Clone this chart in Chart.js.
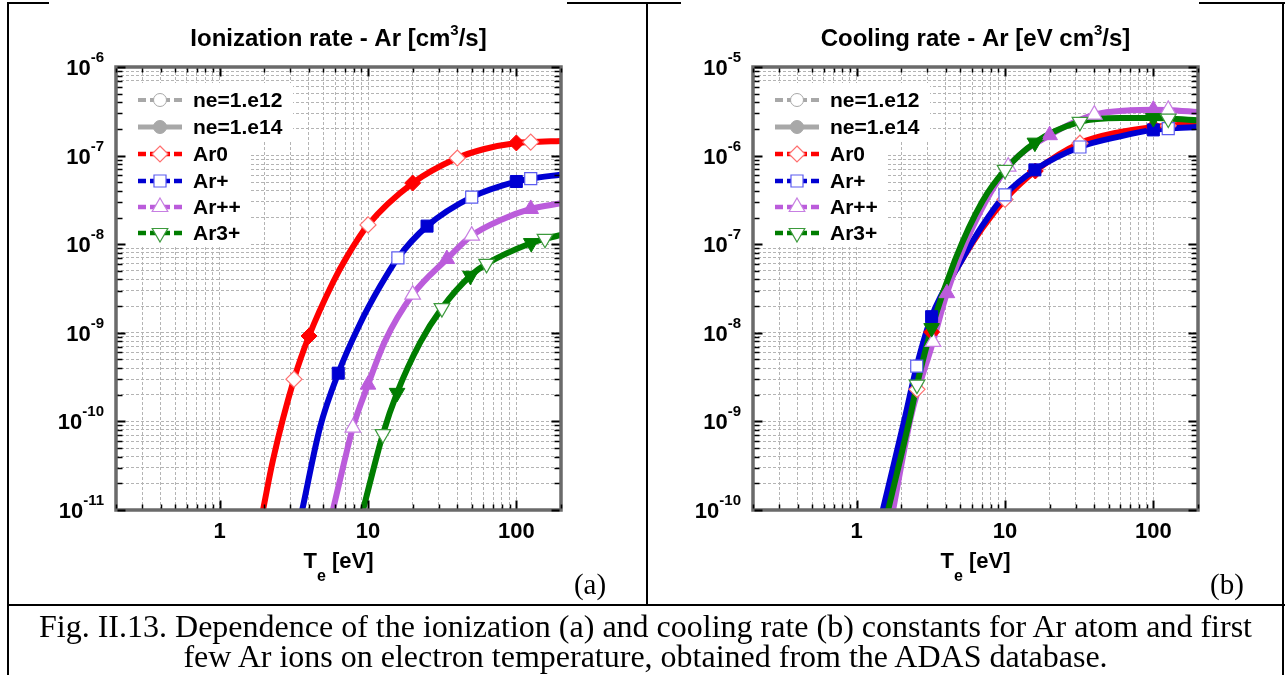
<!DOCTYPE html>
<html lang="en">
<head>
<meta charset="UTF-8">
<title>Ar ionization and cooling rates</title>
<script src="https://cdn.jsdelivr.net/npm/chart.js"></script>
<style>
  body { margin: 0; width: 1285px; height: 675px; background: #fff; position: relative; overflow: hidden; }
  canvas { position: absolute; }
  .ln { position: absolute; background: #000; z-index: 5; }
  #caption { position: absolute; left: 9px; width: 1273px; top: 611px; text-align: center; color: #000;
             font-family: "Liberation Serif", "Times New Roman", serif; font-size: 32px; line-height: 30px; z-index: 5; }
</style>
</head>
<body>

<canvas id="chartIon" width="645" height="603" style="left:0;top:0"></canvas>
<canvas id="chartCool" width="637" height="603" style="left:648px;top:0"></canvas>

<!-- table borders -->
<div class="ln" style="left:7px;top:2px;width:42px;height:2px"></div>
<div class="ln" style="left:567px;top:2px;width:114px;height:2px"></div>
<div class="ln" style="left:1199px;top:2px;width:86px;height:2px"></div>
<div class="ln" style="left:7px;top:2px;width:2px;height:673px"></div>
<div class="ln" style="left:646px;top:2px;width:2px;height:603px"></div>
<div class="ln" style="left:1282px;top:2px;width:2px;height:673px"></div>
<div class="ln" style="left:7px;top:604px;width:1278px;height:2px"></div>

<div id="caption">Fig. II.13. Dependence of the ionization (a) and cooling rate (b) constants for Ar atom and first<br>few Ar ions on electron temperature, obtained from the ADAS database.</div>

<script>
  // ---- axes ----
  var xMin = 0.2, xMax = 200
  var xLabelValues = [1, 10, 100]
  var ionExponents = [-11, -10, -9, -8, -7, -6]
  var coolExponents = [-10, -9, -8, -7, -6, -5]
  var speciesNames = ['Ar0', 'Ar+', 'Ar++', 'Ar3+']

  // ---- (a) ionization rate [cm3/s] vs Te [eV] ----
  var ionT_Ar0 = [1.96, 2.29, 3.17, 4, 5.8, 7.2, 10, 20, 40, 60, 100, 125, 200]
  var ion_Ar0 = [1e-11, 3.7e-11, 3.0e-10, 9.2e-10, 3.7e-9, 7.2e-9, 1.65e-8, 4.9e-8, 9.4e-8, 1.18e-7, 1.39e-7, 1.42e-7, 1.46e-7]
  var ionOpenT_Ar0 = [3.17, 10, 40, 125]
  var ionOpen_Ar0 = [3.0e-10, 1.65e-8, 9.4e-8, 1.42e-7]
  var ionFullT_Ar0 = [4, 20, 100]
  var ionFull_Ar0 = [9.2e-10, 4.9e-8, 1.39e-7]

  var ionT_Arp = [3.6, 4.75, 6.3, 8.8, 12, 15.9, 25, 50, 100, 125, 200]
  var ion_Arp = [1e-11, 8.6e-11, 3.5e-10, 1.25e-9, 3.3e-9, 7.0e-9, 1.6e-8, 3.4e-8, 5.1e-8, 5.5e-8, 6.1e-8]
  var ionOpenT_Arp = [15.9, 50, 125]
  var ionOpen_Arp = [7.0e-9, 3.4e-8, 5.5e-8]
  var ionFullT_Arp = [6.3, 25, 100]
  var ionFull_Arp = [3.5e-10, 1.6e-8, 5.1e-8]

  var ionT_Arpp = [5.8, 7, 7.9, 10, 13, 20, 34, 50, 80, 125, 200]
  var ion_Arpp = [1e-11, 3.8e-11, 8.5e-11, 2.6e-10, 8e-10, 2.7e-9, 6.8e-9, 1.25e-8, 1.9e-8, 2.5e-8, 2.9e-8]
  var ionOpenT_Arpp = [7.9, 20, 50]
  var ionOpen_Arpp = [8.5e-11, 2.7e-9, 1.25e-8]
  var ionFullT_Arpp = [10, 34, 125]
  var ionFull_Arpp = [2.6e-10, 6.8e-9, 2.5e-8]

  var ionT_Ar3p = [9.25, 12.6, 15.7, 22.4, 31.5, 49, 63, 126, 156, 200]
  var ion_Ar3p = [1e-11, 7.2e-11, 2.1e-10, 7.7e-10, 1.9e-9, 4.4e-9, 6.0e-9, 1.03e-8, 1.15e-8, 1.27e-8]
  var ionOpenT_Ar3p = [12.6, 31.5, 63, 156]
  var ionOpen_Ar3p = [7.2e-11, 1.9e-9, 6.0e-9, 1.15e-8]
  var ionFullT_Ar3p = [15.7, 49, 126]
  var ionFull_Ar3p = [2.1e-10, 4.4e-9, 1.03e-8]

  // ---- (b) cooling rate [eV cm3/s] vs Te [eV] ----
  var coolT_Ar0 = [1.58, 2.2, 2.55, 3.2, 4, 5.3, 7, 10, 16, 32, 60, 100, 126, 200]
  var cool_Ar0 = [1e-10, 9.5e-10, 2.3e-9, 1.02e-8, 3.1e-8, 7.3e-8, 1.5e-7, 3.2e-7, 6.7e-7, 1.38e-6, 1.85e-6, 2.1e-6, 2.17e-6, 2.3e-6]
  var coolOpenT_Ar0 = [2.55, 10, 32, 126]
  var coolOpen_Ar0 = [2.3e-9, 3.2e-7, 1.38e-6, 2.17e-6]
  var coolFullT_Ar0 = [3.2, 16, 100]
  var coolFull_Ar0 = [1.02e-8, 6.7e-7, 2.1e-6]

  var coolT_Arp = [1.5, 2.12, 2.54, 3.2, 5.1, 7, 10, 15.9, 32, 60, 100, 126, 200]
  var cool_Arp = [1e-10, 1.12e-9, 4.2e-9, 1.52e-8, 6.6e-8, 1.6e-7, 3.6e-7, 6.9e-7, 1.25e-6, 1.65e-6, 1.95e-6, 2.02e-6, 2.1e-6]
  var coolOpenT_Arp = [2.54, 10, 32, 126]
  var coolOpen_Arp = [4.2e-9, 3.6e-7, 1.25e-6, 2.02e-6]
  var coolFullT_Arp = [3.2, 15.9, 100]
  var coolFull_Arp = [1.52e-8, 6.9e-7, 1.95e-6]

  var coolT_Arpp = [1.76, 2.32, 3.27, 4.06, 6, 10.5, 20, 40, 70, 100, 126, 200]
  var cool_Arpp = [1e-10, 1.12e-9, 7.9e-9, 2.8e-8, 1.5e-7, 7.5e-7, 1.7e-6, 2.9e-6, 3.25e-6, 3.3e-6, 3.28e-6, 3.1e-6]
  var coolOpenT_Arpp = [3.27, 10.5, 40, 126]
  var coolOpen_Arpp = [7.9e-9, 7.5e-7, 2.9e-6, 3.28e-6]
  var coolFullT_Arpp = [4.06, 20, 100]
  var coolFull_Arpp = [2.8e-8, 1.7e-6, 3.3e-6]

  var coolT_Ar3p = [1.63, 2.29, 2.55, 3.2, 4.6, 7, 10, 15.9, 32, 60, 100, 126, 200]
  var cool_Ar3p = [1e-10, 1.12e-9, 2.6e-9, 1.13e-8, 6.6e-8, 3.0e-7, 6.9e-7, 1.4e-6, 2.4e-6, 2.65e-6, 2.65e-6, 2.62e-6, 2.5e-6]
  var coolOpenT_Ar3p = [2.55, 10, 32, 126]
  var coolOpen_Ar3p = [2.6e-9, 6.9e-7, 2.4e-6, 2.62e-6]
  var coolFullT_Ar3p = [3.2, 15.9, 100]
  var coolFull_Ar3p = [1.13e-8, 1.4e-6, 2.65e-6]

  // ---- styles ----
  var sans = '"Liberation Sans", Arial, sans-serif'
  var serif = '"Liberation Serif", "Times New Roman", serif'
  var gridColor = '#b4b4b4'
  var frameColor = '#6a6a6a'
  var neColor = '#a8a8a8'
  var speciesStyle = [
    { color: '#ff0000', light: '#ff6f6f', marker: 'diamond', pointStyle: 'rectRot', rot: 0, r: 8 },
    { color: '#0000d2', light: '#5c5cf0', marker: 'square', pointStyle: 'rect', rot: 0, r: 8.5 },
    { color: '#bb5cdb', light: '#c77fe2', marker: 'triangle', pointStyle: 'triangle', rot: 0, r: 9 },
    { color: '#007d00', light: '#3c9a3c', marker: 'invtriangle', pointStyle: 'triangle', rot: 180, r: 9 }
  ]

  function toXY(xs, ys) {
    return xs.map(function (x, i) { return { x: x, y: ys[i] } })
  }

  // tick values 1..9 x 10^n inside [lo, hi]
  function logTicks(lo, hi) {
    var out = []
    for (var e = Math.floor(Math.log10(lo)); e <= Math.ceil(Math.log10(hi)); e++) {
      for (var m = 1; m <= 9; m++) {
        var v = m * Math.pow(10, e)
        if (v >= lo * 0.999 && v <= hi * 1.001) out.push({ value: v, major: m === 1 })
      }
    }
    return out
  }

  function drawMarker(ctx, kind, x, y, r, fill, stroke, lw) {
    ctx.save()
    ctx.beginPath()
    if (kind === 'circle') {
      ctx.arc(x, y, r, 0, Math.PI * 2)
    } else if (kind === 'diamond') {
      ctx.moveTo(x, y - r); ctx.lineTo(x + r, y); ctx.lineTo(x, y + r); ctx.lineTo(x - r, y); ctx.closePath()
    } else if (kind === 'square') {
      var s = r * Math.SQRT1_2
      ctx.rect(x - s, y - s, 2 * s, 2 * s)
    } else if (kind === 'triangle') {
      ctx.moveTo(x, y - r); ctx.lineTo(x + 0.866 * r, y + 0.5 * r); ctx.lineTo(x - 0.866 * r, y + 0.5 * r); ctx.closePath()
    } else {
      ctx.moveTo(x, y + r); ctx.lineTo(x + 0.866 * r, y - 0.5 * r); ctx.lineTo(x - 0.866 * r, y - 0.5 * r); ctx.closePath()
    }
    ctx.fillStyle = fill
    ctx.fill()
    ctx.lineWidth = lw
    ctx.strokeStyle = stroke
    ctx.stroke()
    ctx.restore()
  }

  // text made of pieces: {t, size, dy}
  function drawRich(ctx, parts, x, y, align) {
    var total = 0
    parts.forEach(function (p) { ctx.font = 'bold ' + p.size + 'px ' + sans; p.w = ctx.measureText(p.t).width; total += p.w })
    var cx = align === 'center' ? x - total / 2 : (align === 'right' ? x - total : x)
    ctx.textAlign = 'left'
    ctx.textBaseline = 'alphabetic'
    parts.forEach(function (p) {
      ctx.font = 'bold ' + p.size + 'px ' + sans
      ctx.fillText(p.t, cx, y + (p.dy || 0))
      cx += p.w
    })
  }

  function legendLine(ctx, x0, x1, y, color, width, dashed) {
    var mid = (x0 + x1) / 2
    ctx.save()
    ctx.strokeStyle = color
    ctx.lineWidth = width
    ctx.setLineDash(dashed ? [8, 4] : [])
    ctx.beginPath(); ctx.moveTo(x0, y); ctx.lineTo(mid, y); ctx.stroke()
    ctx.beginPath(); ctx.moveTo(x1, y); ctx.lineTo(mid, y); ctx.stroke()
    ctx.restore()
  }

  var decoPlugin = {
    id: 'deco',
    // white legend background, over the grid
    beforeDatasetsDraw: function (chart) {
      var a = chart.chartArea, ctx = chart.ctx
      ctx.save()
      ctx.fillStyle = '#fff'
      ctx.fillRect(a.left + 1, a.top + 16, 176, 58)
      ctx.fillRect(a.left + 1, a.top + 73, 133, 107)
      ctx.restore()
    },
    afterDatasetsDraw: function (chart, args, opts) {
      var a = chart.chartArea, ctx = chart.ctx
      var xs = chart.scales.x, ys = chart.scales.y
      ctx.save()

      // frame
      ctx.strokeStyle = frameColor
      ctx.lineWidth = 3.5
      ctx.strokeRect(a.left, a.top, a.right - a.left, a.bottom - a.top)

      // inward ticks on all four sides
      ctx.strokeStyle = '#000'
      logTicks(xMin, xMax).forEach(function (t) {
        var x = Math.round(xs.getPixelForValue(t.value)) + 0.5
        var len = t.major ? 8 : 4
        ctx.lineWidth = t.major ? 2 : 1.5
        ctx.beginPath()
        ctx.moveTo(x, a.bottom - 1.5); ctx.lineTo(x, a.bottom - 1.5 - len)
        ctx.moveTo(x, a.top + 1.5); ctx.lineTo(x, a.top + 1.5 + len)
        ctx.stroke()
      })
      logTicks(ys.min, ys.max).forEach(function (t) {
        var y = Math.round(ys.getPixelForValue(t.value)) + 0.5
        var len = t.major ? 8 : 5
        ctx.lineWidth = t.major ? 2 : 1.5
        ctx.beginPath()
        ctx.moveTo(a.left + 1.5, y); ctx.lineTo(a.left + 1.5 + len, y)
        ctx.moveTo(a.right - 1.5, y); ctx.lineTo(a.right - 1.5 - len, y)
        ctx.stroke()
      })

      // legend
      var x0 = a.left + 22, x1 = a.left + 66, xm = a.left + 44, xt = a.left + 77
      var rows = [33, 60, 87, 114, 140, 166]
      legendLine(ctx, x0, x1, a.top + rows[0], neColor, 4, true)
      drawMarker(ctx, 'circle', xm, a.top + rows[0], 6.5, '#fff', neColor, 1)
      legendLine(ctx, x0, x1, a.top + rows[1], neColor, 5, false)
      drawMarker(ctx, 'circle', xm, a.top + rows[1], 6.5, neColor, neColor, 1)
      speciesStyle.forEach(function (st, k) {
        var y = a.top + rows[k + 2]
        legendLine(ctx, x0, x1, y, st.color, 4.5, true)
        drawMarker(ctx, st.marker, xm, y, st.r, '#fff', st.light, 1.2)
      })
      ctx.fillStyle = '#000'
      ctx.font = 'bold 21px ' + sans
      ctx.textAlign = 'left'
      ctx.textBaseline = 'middle'
      var names = ['ne=1.e12', 'ne=1.e14'].concat(speciesNames)
      names.forEach(function (n, i) { ctx.fillText(n, xt, a.top + rows[i] + 1) })
      ctx.restore()
    },
    afterDraw: function (chart, args, opts) {
      var a = chart.chartArea, ctx = chart.ctx
      var xs = chart.scales.x, ys = chart.scales.y
      var cx = (a.left + a.right) / 2
      ctx.save()
      ctx.fillStyle = '#000'

      // title
      drawRich(ctx, [
        { t: opts.title[0], size: 24 },
        { t: '3', size: 15, dy: -11 },
        { t: opts.title[1], size: 24 }
      ], cx, 46, 'center')

      // x tick labels
      ctx.font = 'bold 22px ' + sans
      ctx.textAlign = 'center'
      ctx.textBaseline = 'alphabetic'
      xLabelValues.forEach(function (v) { ctx.fillText(String(v), xs.getPixelForValue(v), a.bottom + 28) })

      // y tick labels 10^n
      opts.exponents.forEach(function (e) {
        var y = ys.getPixelForValue(Math.pow(10, e))
        drawRich(ctx, [
          { t: '10', size: 22, dy: 8 },
          { t: String(e), size: 15, dy: -5 }
        ], a.left - 12, y, 'right')
      })

      // x title T_e [eV]
      drawRich(ctx, [
        { t: 'T', size: 22 },
        { t: 'e', size: 16, dy: 13 },
        { t: ' [eV]', size: 22 }
      ], cx, a.bottom + 58, 'center')

      // panel letter
      ctx.font = '29px ' + serif
      ctx.textAlign = 'center'
      ctx.fillText(opts.letter, a.right + 29, a.bottom + 84)
      ctx.restore()
    }
  }

  function buildPanel(canvasId, curves, yMin, yMax, padding, deco) {
    var datasets = []
    curves.forEach(function (c, k) {
      var st = speciesStyle[k]
      datasets.push({
        label: speciesNames[k],
        data: toXY(c.T, c.v),
        borderColor: st.color,
        borderWidth: 6,
        pointRadius: 0,
        cubicInterpolationMode: 'monotone',
        fill: false,
        order: 20 - k
      })
      datasets.push({
        label: speciesNames[k] + ' ne=1.e12',
        data: toXY(c.openT, c.open),
        showLine: false,
        pointStyle: st.pointStyle,
        pointRotation: st.rot,
        pointRadius: st.r,
        pointBackgroundColor: '#fff',
        pointBorderColor: st.light,
        pointBorderWidth: 1.2,
        order: 10 - k
      })
      datasets.push({
        label: speciesNames[k] + ' ne=1.e14',
        data: toXY(c.fullT, c.full),
        showLine: false,
        pointStyle: st.pointStyle,
        pointRotation: st.rot,
        pointRadius: st.r,
        pointBackgroundColor: st.color,
        pointBorderColor: st.color,
        pointBorderWidth: 1,
        order: 10 - k
      })
    })

    return new Chart(document.getElementById(canvasId), {
      type: 'line',
      data: { datasets: datasets },
      options: {
        responsive: false,
        animation: false,
        events: [],
        layout: { padding: padding },
        plugins: { legend: { display: false }, tooltip: { enabled: false }, deco: deco },
        scales: {
          x: {
            type: 'logarithmic', min: xMin, max: xMax,
            afterBuildTicks: function (s) { s.ticks = logTicks(xMin, xMax) },
            afterFit: function (s) { s.height = 0 },
            ticks: { display: false },
            grid: { color: gridColor, lineWidth: 1, drawTicks: false },
            border: { display: false, dash: [3, 2] }
          },
          y: {
            type: 'logarithmic', min: yMin, max: yMax,
            afterBuildTicks: function (s) { s.ticks = logTicks(yMin, yMax) },
            afterFit: function (s) { s.width = 0 },
            ticks: { display: false },
            grid: { color: gridColor, lineWidth: 1, drawTicks: false },
            border: { display: false, dash: [3, 2] }
          }
        }
      },
      plugins: [decoPlugin]
    })
  }

  buildPanel('chartIon', [
    { T: ionT_Ar0, v: ion_Ar0, openT: ionOpenT_Ar0, open: ionOpen_Ar0, fullT: ionFullT_Ar0, full: ionFull_Ar0 },
    { T: ionT_Arp, v: ion_Arp, openT: ionOpenT_Arp, open: ionOpen_Arp, fullT: ionFullT_Arp, full: ionFull_Arp },
    { T: ionT_Arpp, v: ion_Arpp, openT: ionOpenT_Arpp, open: ionOpen_Arpp, fullT: ionFullT_Arpp, full: ionFull_Arpp },
    { T: ionT_Ar3p, v: ion_Ar3p, openT: ionOpenT_Ar3p, open: ionOpen_Ar3p, fullT: ionFullT_Ar3p, full: ionFull_Ar3p }
  ], 1e-11, 1e-6, { left: 116, top: 67, right: 84, bottom: 93 },
    { title: ['Ionization rate - Ar [cm', '/s]'], exponents: ionExponents, letter: '(a)' })

  buildPanel('chartCool', [
    { T: coolT_Ar0, v: cool_Ar0, openT: coolOpenT_Ar0, open: coolOpen_Ar0, fullT: coolFullT_Ar0, full: coolFull_Ar0 },
    { T: coolT_Arp, v: cool_Arp, openT: coolOpenT_Arp, open: coolOpen_Arp, fullT: coolFullT_Arp, full: coolFull_Arp },
    { T: coolT_Arpp, v: cool_Arpp, openT: coolOpenT_Arpp, open: coolOpen_Arpp, fullT: coolFullT_Arpp, full: coolFull_Arpp },
    { T: coolT_Ar3p, v: cool_Ar3p, openT: coolOpenT_Ar3p, open: coolOpen_Ar3p, fullT: coolFullT_Ar3p, full: coolFull_Ar3p }
  ], 1e-10, 1e-5, { left: 105, top: 67, right: 87, bottom: 93 },
    { title: ['Cooling rate - Ar [eV cm', '/s]'], exponents: coolExponents, letter: '(b)' })
</script>
</body>
</html>
